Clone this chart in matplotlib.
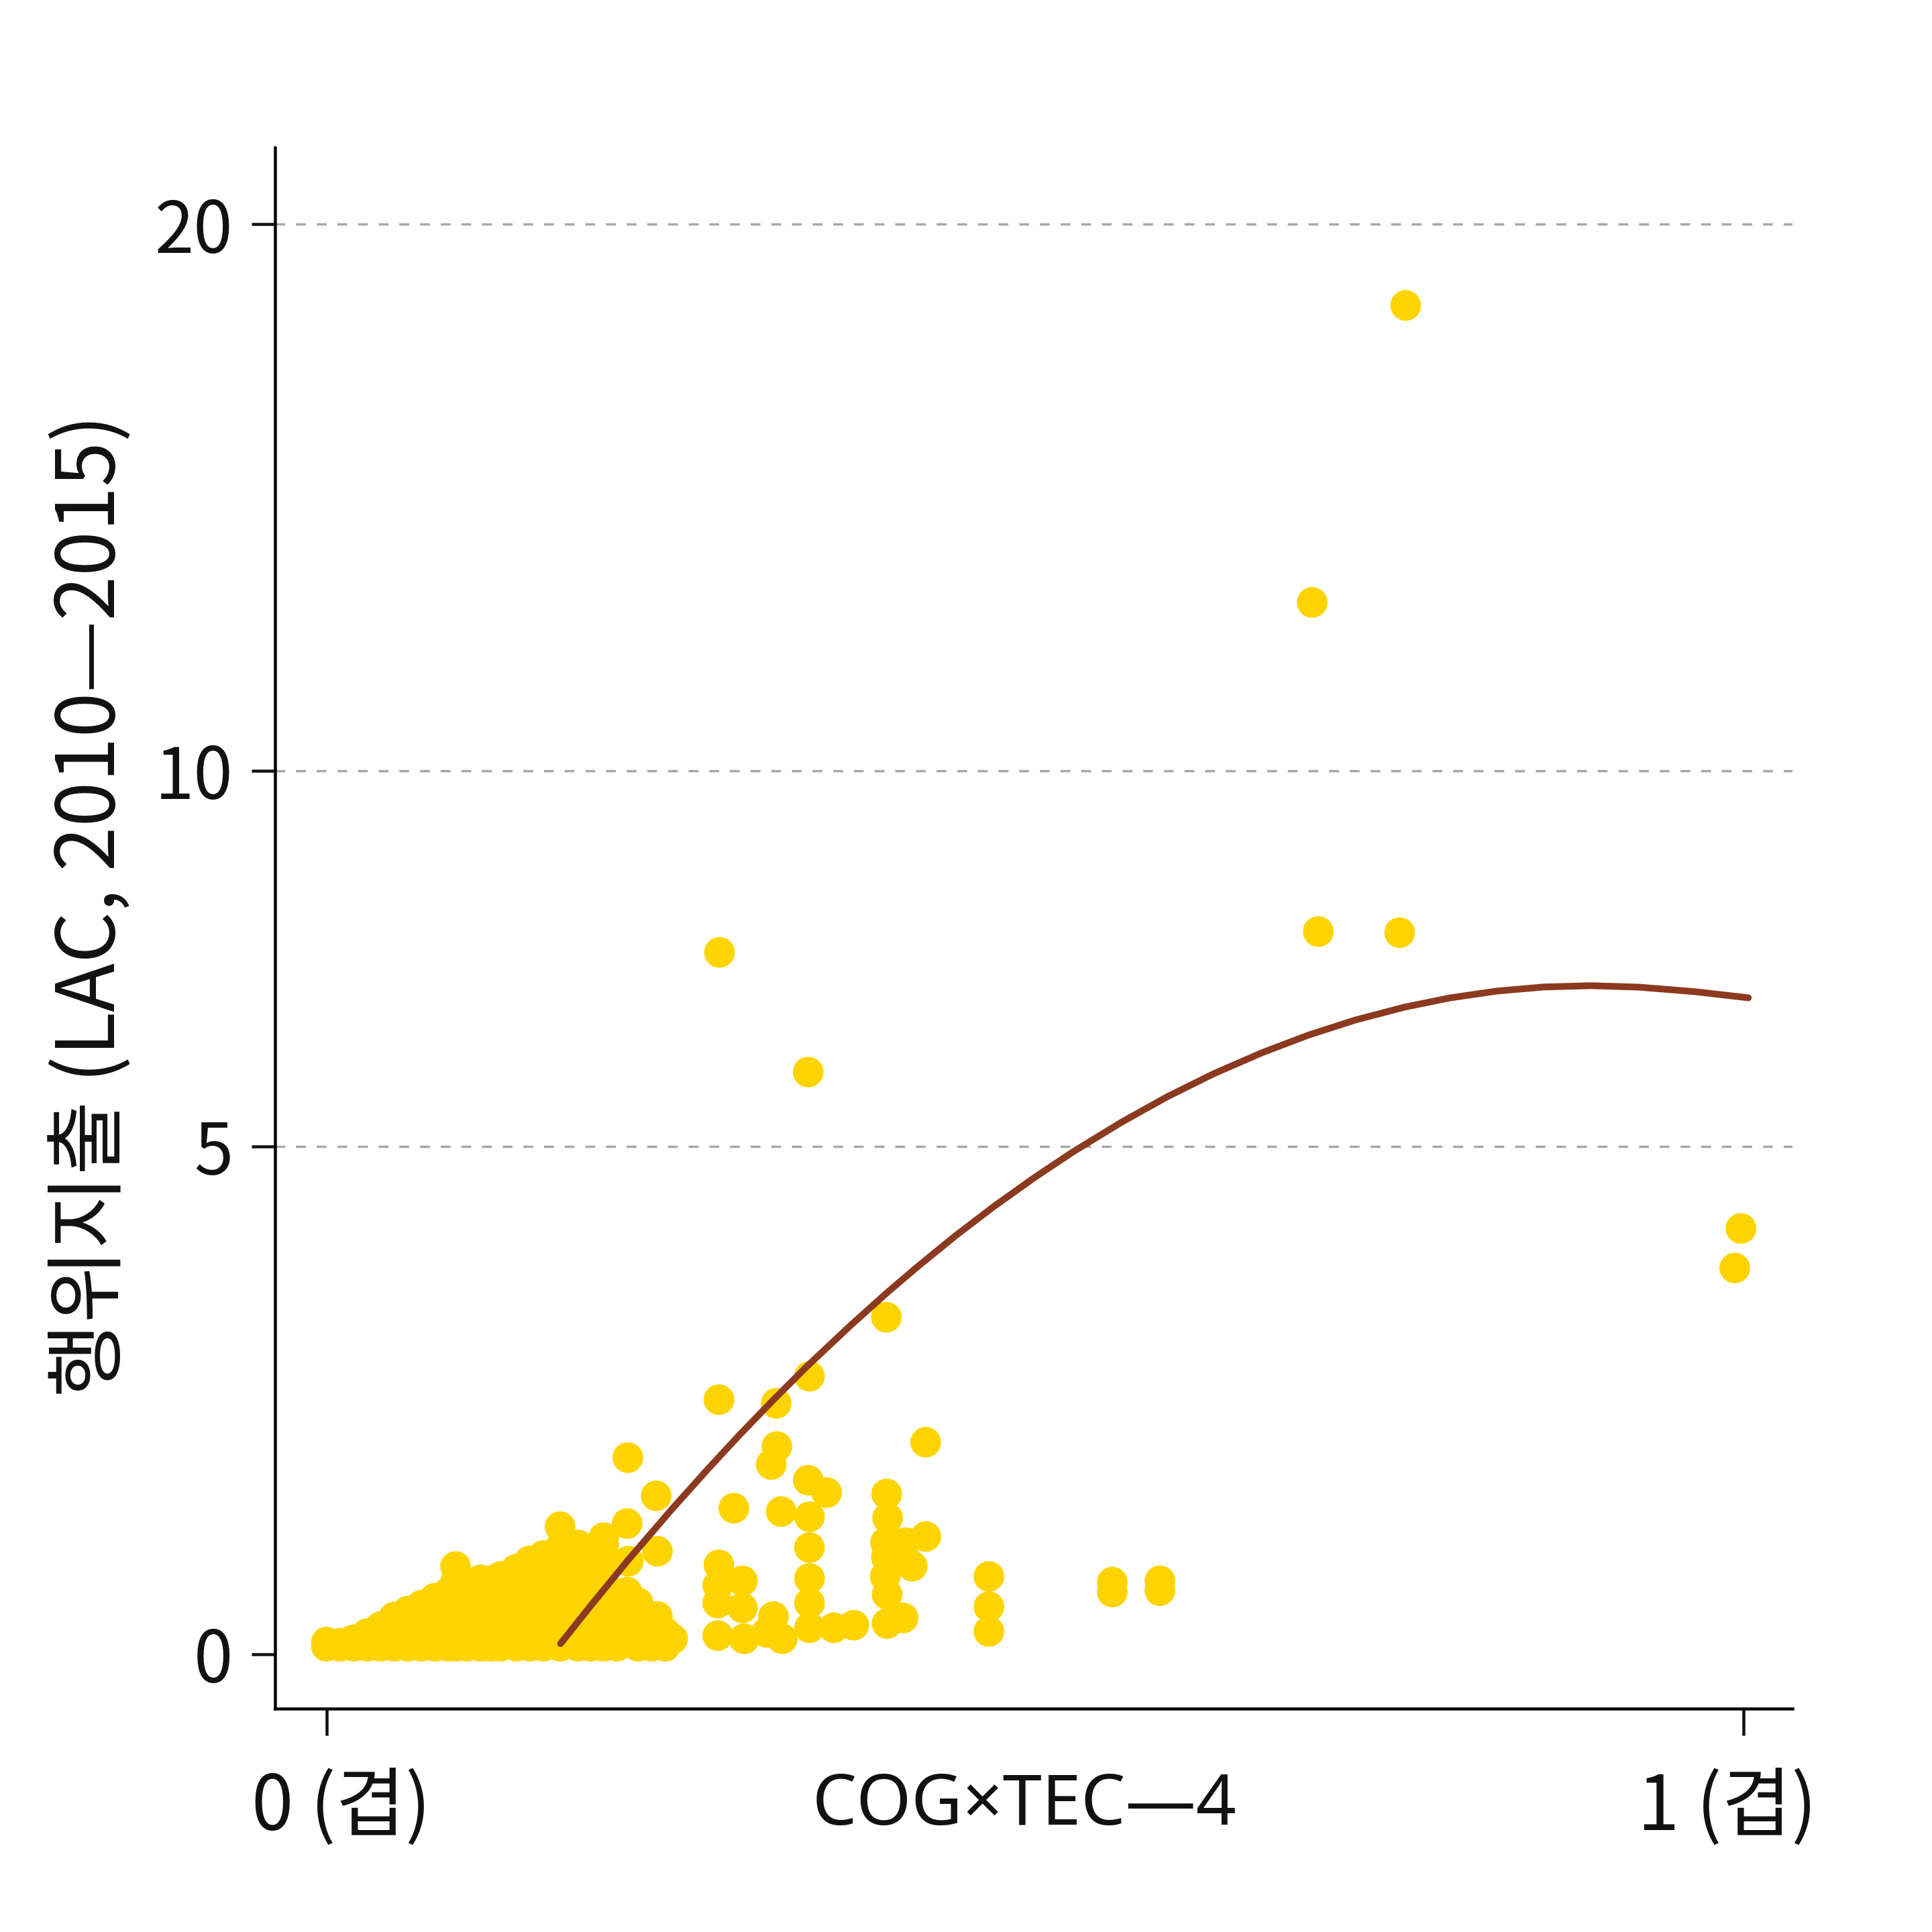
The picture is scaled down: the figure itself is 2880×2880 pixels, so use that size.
import numpy as np
import matplotlib
matplotlib.use('Agg')
import matplotlib.pyplot as plt
from matplotlib.ticker import NullLocator
from matplotlib.transforms import ScaledTranslation

plt.rcParams['font.family'] = ['Noto Sans CJK KR', 'DejaVu Sans']

# dense cluster near zero: column positions and the y values stacked in each column
cluster_x = [0.000, 0.0096, 0.0191, 0.0287, 0.0383, 0.0478, 0.0574, 0.0670,
             0.0765, 0.0861, 0.0911, 0.0990, 0.1088, 0.1160, 0.1230, 0.1339,
             0.1435, 0.1530, 0.1649, 0.1774, 0.1865, 0.1956, 0.2050, 0.2200,
             0.2296, 0.2391]
cluster_y = [
    [0.066, 0.10],
    [0.066, 0.09],
    [0.066, 0.12],
    [0.066, 0.17],
    [0.066, 0.23],
    [0.066, 0.199, 0.31],
    [0.066, 0.199, 0.36],
    [0.066, 0.199, 0.41],
    [0.066, 0.199, 0.334, 0.47],
    [0.066, 0.199, 0.334, 0.52],
    [0.066, 0.334, 0.608, 0.744],
    [0.066, 0.199, 0.334, 0.471, 0.60],
    [0.066, 0.199, 0.334, 0.471, 0.628],
    [0.066, 0.199, 0.334, 0.471, 0.62],
    [0.066, 0.199, 0.334, 0.471, 0.657],
    [0.066, 0.199, 0.334, 0.471, 0.608, 0.72],
    [0.066, 0.199, 0.334, 0.471, 0.608, 0.793],
    [0.066, 0.199, 0.334, 0.471, 0.608, 0.747, 0.84],
    [0.066, 0.199, 0.334, 0.471, 0.608, 0.747, 0.911, 1.097],
    [0.066, 0.199, 0.334, 0.471, 0.608, 0.747, 0.9345],
    [0.066, 0.199, 0.334, 0.471, 0.608, 0.80],
    [0.066, 0.199, 0.334, 0.471, 0.608, 0.774, 0.9345],
    [0.066, 0.199, 0.40],
    [0.066, 0.199, 0.43],
    [0.066, 0.30],
    [0.066, 0.18],
]

# scattered middle points
mid_x = [0.277, 0.3174, 0.3409, 0.3952, 0.4229, 0.2127, 0.3179, 0.3139, 0.2327,
         0.2875, 0.340, 0.353, 0.3209, 0.3409, 0.3954, 0.396, 0.423, 0.2122,
         0.1957, 0.2336, 0.3409, 0.3945, 0.4087, 0.4135, 0.3952, 0.3943, 0.3957,
         0.3957, 0.4070, 0.277, 0.2936, 0.2762, 0.2762, 0.2936, 0.3409, 0.3409,
         0.3409, 0.3155, 0.3107, 0.2762, 0.2948, 0.3217, 0.3581, 0.3722, 0.2122,
         0.2336, 0.2443, 0.2127, 0.2122, 0.4675, 0.4675, 0.4675, 0.5546, 0.5546,
         0.5882, 0.5882, 0.213, 0.2287]
mid_y = [2.289, 2.253, 2.520, 3.121, 1.878, 1.732, 1.837, 1.668, 1.377,
         1.264, 1.521, 1.407, 1.234, 1.186, 1.394, 1.175, 1.009, 1.125,
         0.9985, 0.878, 0.9105, 0.954, 0.954, 0.747, 0.824, 0.657, 0.502,
         0.255, 0.303, 0.7585, 0.619, 0.580, 0.4286, 0.3866, 0.6405, 0.4286,
         0.220, 0.3134, 0.181, 0.154, 0.1275, 0.1275, 0.220, 0.241, 0.523,
         0.3134, 0.1275, 0.1275, 0.272, 0.657, 0.397, 0.189, 0.608, 0.523,
         0.619, 0.534, 0.791, 0.1275]

# outliers
out_x = [0.7617, 0.6957, 0.700, 0.7574, 0.2774, 0.340, 0.9983, 0.9939]
out_y = [18.27, 12.69, 7.70, 7.685, 7.42, 5.89, 4.07, 3.64]

# fitted curve
fit_x = [0.1652, 0.1870, 0.2130, 0.2435, 0.2696, 0.2913, 0.3157, 0.3391, 0.3696,
         0.3957, 0.4174, 0.4435, 0.4704, 0.5000, 0.5270, 0.5609, 0.5930, 0.6261,
         0.6600, 0.6930, 0.7261, 0.7609, 0.7930, 0.8261, 0.8591, 0.8922, 0.9261,
         0.9652, 1.0035]
fit_y = [0.087, 0.413, 0.802, 1.251, 1.631, 1.945, 2.291, 2.619, 3.032,
         3.378, 3.657, 3.984, 4.307, 4.645, 4.938, 5.283, 5.586, 5.869,
         6.127, 6.349, 6.540, 6.705, 6.824, 6.912, 6.965, 6.982, 6.963,
         6.905, 6.825]

y_ticks = [0, 5, 10, 20]
grid_vals = [5, 10, 20]
x_ticks = [0, 1]
x_ticklabels = ['0 (겹)', '1 (겹)']

xs = [cx for cx, col in zip(cluster_x, cluster_y) for _ in col] + mid_x + out_x
ys = [v for col in cluster_y for v in col] + mid_y + out_y


def fwd(y):
    return np.log(np.asarray(y, dtype=float) + 12)


def inv(v):
    return np.exp(np.asarray(v, dtype=float)) - 12


fig = plt.figure(figsize=(16, 16), dpi=180)
ax = fig.add_axes([0.1422, 0.1156, 0.7857, 0.808])
ax.set_yscale('function', functions=(fwd, inv))

for g in grid_vals:
    ax.axhline(g, color='#a8a8a8', lw=1.4, ls=(0, (4.2, 4.6)), zorder=1)

ax.scatter(xs, ys, s=334, color='#FDD400', edgecolors='none', zorder=2)
ax.plot(fit_x, fit_y, color='#8B3A1F', lw=4.0, zorder=3,
        solid_capstyle='round', solid_joinstyle='round')

ax.set_xlim(-0.0365, 1.0348)
ax.set_ylim(-0.44, 21.73)
ax.set_yticks(y_ticks)
ax.set_yticklabels([str(t) for t in y_ticks])
ax.yaxis.set_minor_locator(NullLocator())
ax.set_xticks(x_ticks)
ax.set_xticklabels(x_ticklabels)

for s in ['top', 'right']:
    ax.spines[s].set_visible(False)
for s in ['left', 'bottom']:
    ax.spines[s].set_linewidth(1.8)

ax.tick_params(axis='y', length=14, width=1.8, pad=11, labelsize=42, colors='#111111')
ax.tick_params(axis='x', length=16, width=1.8, pad=20, labelsize=45, colors='#111111')

# nudge the two x tick labels inward, as in the original
shifts = [8.8, -9.6]
for lab, dx in zip(ax.get_xticklabels(), shifts):
    lab.set_transform(lab.get_transform() + ScaledTranslation(dx / 72, 0, fig.dpi_scale_trans))

ax.set_xlabel('COG×TEC—4', fontsize=42, color='#111111',
              family=['Noto Sans', 'DejaVu Sans'])
ax.xaxis.set_label_coords(0.494, -0.0626)
ax.xaxis.label.set_va('center')
ax.set_ylabel('행위지출 (LAC, 2010—2015)', fontsize=48, color='#111111')
ax.yaxis.set_label_coords(-0.12, 0.5144)
ax.yaxis.label.set_va('center')

fig.savefig('out.png', dpi=180)
